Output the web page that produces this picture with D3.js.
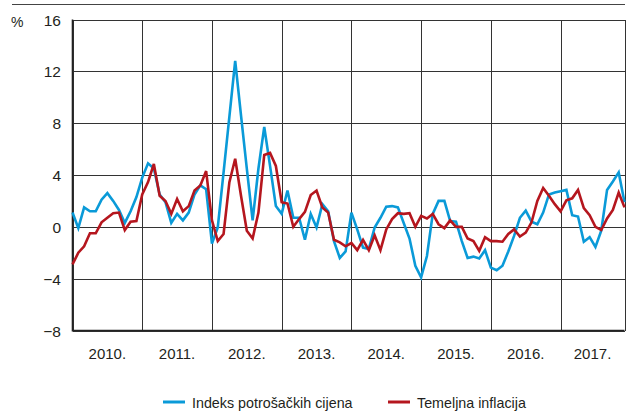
<!DOCTYPE html>
<html>
<head>
<meta charset="utf-8">
<script src="https://cdn.jsdelivr.net/npm/d3@7"></script>
<style>
  body { margin: 0; background: #fff; }
  svg text { font-family: "Liberation Sans", Arial, sans-serif; fill: #231f20; }
</style>
</head>
<body>
<svg id="chart" width="628" height="415"></svg>
<script>
// monthly values, Jan 2010 - Dec 2017
const years = ["2010.", "2011.", "2012.", "2013.", "2014.", "2015.", "2016.", "2017."];
const y_ticks = [16, 12, 8, 4, 0, -4, -8];
const cpi = [
    1.1, -0.1, 1.5, 1.2, 1.2, 2.1, 2.6, 2.0, 1.3, 0.3, 1.2, 2.3,
    3.8, 4.9, 4.5, 2.5, 1.9, 0.3, 1.0, 0.5, 1.1, 2.5, 3.2, 2.9,
    -1.3, -0.05, 4.2, 8.5, 12.8, 8.6, 4.5, 0.5, 4.5, 7.7, 4.7, 1.6,
    1.0, 2.8, 0.7, 0.7, -1.0, 1.0, -0.05, 1.75, 1.2, -1.1, -2.4, -1.9,
    1.1, -0.2, -1.6, -1.7, -0.05, 0.7, 1.55, 1.6, 1.5, 0.3, -0.9, -3.0,
    -3.9, -2.25, 1.0, 2.0, 2.0, 0.45, 0.4, -1.1, -2.4, -2.3, -2.45, -1.8,
    -3.15, -3.35, -3.0, -1.9, -0.7, 0.7, 1.25, 0.4, 0.2, 1.1, 2.5, 2.65,
    2.75, 2.85, 0.9, 0.8, -1.15, -0.8, -1.55, -0.3, 2.85, 3.5, 4.2, 1.9
];
const core = [
    -2.9, -2.0, -1.5, -0.5, -0.5, 0.35, 0.7, 1.05, 1.1, -0.25, 0.4, 0.45,
    2.5, 3.45, 4.85, 2.4, 2.0, 1.0, 2.15, 1.2, 1.6, 2.8, 3.2, 4.3,
    0.5, -1.1, -0.55, 3.45, 5.25, 2.4, -0.3, -0.9, 1.1, 5.55, 5.7, 4.7,
    1.9, 1.8, 0.0, 0.6, 1.15, 2.45, 2.8, 1.5, 1.1, -1.0, -1.2, -1.5,
    -1.25, -1.8, -1.0, -1.8, -0.65, -1.8, -0.2, 0.6, 1.05, 1.0, 1.05, 0.0,
    0.85, 0.65, 1.0, 0.2, -0.1, 0.5, 0.0, 0.0, -0.9, -1.1, -1.85, -0.8,
    -1.1, -1.1, -1.15, -0.55, -0.2, -0.75, -0.45, 0.35, 2.0, 3.0, 2.4, 1.75,
    1.2, 2.05, 2.2, 2.85, 1.45, 0.9, 0.0, -0.25, 0.65, 1.3, 2.65, 1.5
];
const series_names = ["Indeks potrošačkih cijena", "Temeljna inflacija"];
const series_colors = ["#0a9ad8", "#b5161e"];

const svg = d3.select("#chart");
const plot_left = 72.5, plot_right = 624.5, plot_top = 19.5, plot_bottom = 330.5;

const x = d3.scaleLinear().domain([0, cpi.length - 1]).range([plot_left, plot_right]);
const y = d3.scaleLinear().domain([-8, 16]).range([plot_bottom, plot_top]);

// rule above the chart
svg.append("line")
    .attr("x1", 12).attr("x2", 625)
    .attr("y1", 4.5).attr("y2", 4.5)
    .attr("stroke", "#444").attr("stroke-width", 1);

svg.append("text")
    .attr("x", 11).attr("y", 27)
    .attr("font-size", 14)
    .text("%");

// horizontal grid
const grid = svg.append("g").attr("shape-rendering", "crispEdges");
grid.selectAll(".h")
    .data(y_ticks)
    .enter()
    .append("line")
    .attr("x1", plot_left).attr("x2", plot_right)
    .attr("y1", d => Math.round(y(d)) + 0.5)
    .attr("y2", d => Math.round(y(d)) + 0.5)
    .attr("stroke", "#333").attr("stroke-width", 1);

// year separators + frame sides
const year_bounds = d3.range(0, years.length + 1).map(i => Math.min(i * 12, cpi.length - 1));
grid.selectAll(".v")
    .data(year_bounds)
    .enter()
    .append("line")
    .attr("x1", d => Math.round(x(d)) + 0.5)
    .attr("x2", d => Math.round(x(d)) + 0.5)
    .attr("y1", plot_top).attr("y2", plot_bottom)
    .attr("stroke", "#333").attr("stroke-width", 1);

svg.append("line")
    .attr("x1", plot_left).attr("x2", plot_left)
    .attr("y1", plot_top).attr("y2", plot_bottom + 1)
    .attr("stroke", "#222").attr("stroke-width", 1.6);
svg.append("line")
    .attr("x1", plot_left).attr("x2", plot_right)
    .attr("y1", plot_bottom).attr("y2", plot_bottom)
    .attr("stroke", "#222").attr("stroke-width", 1.6);

// y labels
svg.append("g").selectAll("text")
    .data(y_ticks)
    .enter()
    .append("text")
    .attr("x", 61)
    .attr("y", d => y(d) + 6)
    .attr("text-anchor", "end")
    .attr("font-size", 15.5)
    .text(d => d < 0 ? "\u2212" + Math.abs(d) : d);

// year labels
svg.append("g").selectAll("text")
    .data(years)
    .enter()
    .append("text")
    .attr("x", (d, i) => (x(year_bounds[i]) + x(year_bounds[i + 1])) / 2)
    .attr("y", 359)
    .attr("text-anchor", "middle")
    .attr("font-size", 15)
    .text(d => d);

// lines
const line = d3.line()
    .x((d, i) => x(i))
    .y(d => y(d));

svg.append("g")
    .selectAll("path")
    .data([cpi, core])
    .enter()
    .append("path")
    .attr("d", d => line(d))
    .attr("fill", "none")
    .attr("stroke", (d, i) => series_colors[i])
    .attr("stroke-width", 2.6)
    .attr("stroke-linejoin", "miter");

// legend
const legend_x = [163, 388];
const legend = svg.append("g").selectAll("g")
    .data(series_names)
    .enter()
    .append("g")
    .attr("transform", (d, i) => `translate(${legend_x[i]},402)`);
legend.append("line")
    .attr("x1", 0).attr("x2", 22)
    .attr("stroke", (d, i) => series_colors[i])
    .attr("stroke-width", 3);
legend.append("text")
    .attr("x", 29).attr("y", 6)
    .attr("font-size", 14.3)
    .text(d => d);
</script>
</body>
</html>
